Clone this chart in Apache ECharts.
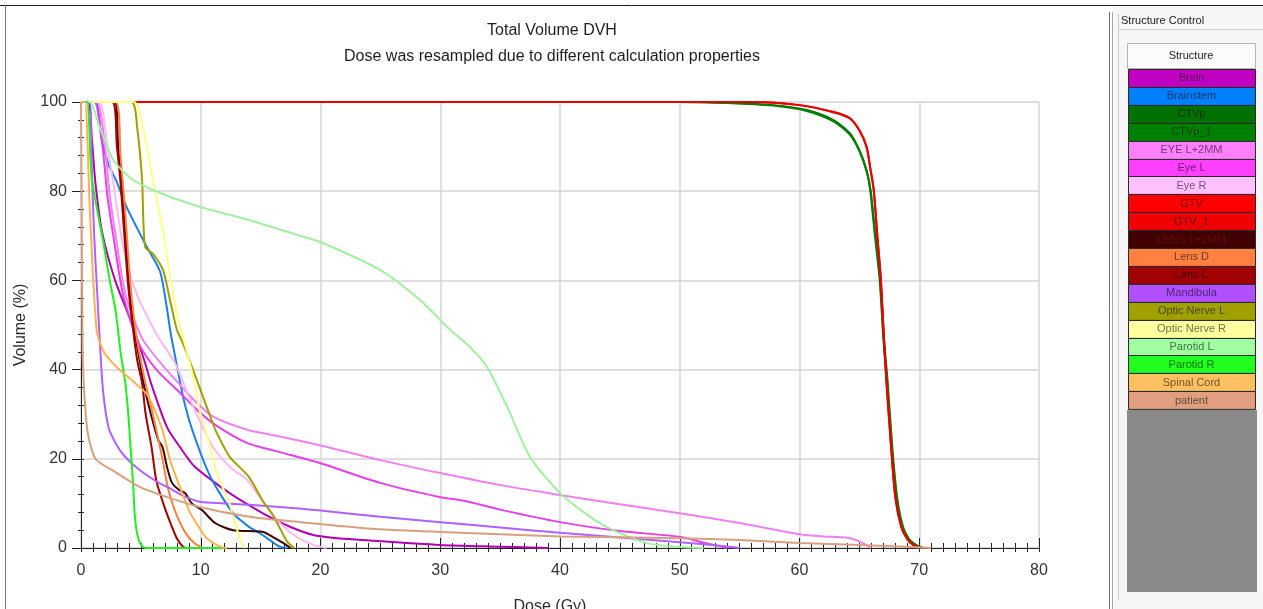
<!DOCTYPE html>
<html>
<head>
<meta charset="utf-8">
<script src="https://cdn.jsdelivr.net/npm/echarts@6/dist/echarts.min.js"></script>
<style>
html,body{margin:0;padding:0;background:#fff;}
#chart{width:1263px;height:609px;}
</style>
</head>
<body>
<div id="chart"></div>
<script>
// ---------- texts ----------
const titleText = 'Total Volume DVH';
const subtitleText = 'Dose was resampled due to different calculation properties';
const xAxisName = 'Dose (Gy)';
const yAxisName = 'Volume (%)';
const panelTitle = 'Structure Control';
const panelHeader = 'Structure';

// ---------- axes ----------
const xMin = 0, xMax = 80, xStep = 10;
const yMin = 0, yMax = 100, yStep = 20;

// ---------- structures (legend order) ----------
const structureNames = ['Brain','Brainstem','CTVp','CTVp_1','EYE L+2MM','Eye L','Eye R','GTV','GTV_1','LENS L+2MM','Lens D','Lens L','Mandibula','Optic Nerve L','Optic Nerve R','Parotid L','Parotid R','Spinal Cord','patient'];
const structureColors = ['#C000C0','#0080FF','#007000','#008000','#FF80FF','#FF40FF','#FFC0FF','#FF0000','#F00000','#400000','#FF8040','#A00000','#B050FF','#A0A000','#FFFFA0','#A0FFA0','#20FF20','#FFC060','#E0A080'];
const lineColors = ['#B000B0','#1880E8','#007000','#008000','#F080F0','#E840E8','#FFB8F0','#F00000','#E80000','#3A0606','#FF8040','#A00000','#B060FF','#A0A000','#FFFF88','#A0F0A0','#20F020','#FFB050','#D8A080'];

// ---------- DVH curves: [dose Gy, volume %] ----------
const brain = [[0,100],[0.6,100],[0.9,92],[1.2,82],[1.75,71],[2.85,60],[4.3,50],[5.35,41.5],[5.9,36.5],[7.2,27],[8.3,22.5],[9.4,18.5],[11,15],[12.7,11.8],[13.9,9.8],[15.5,7.3],[17.5,4.7],[19.4,2.9],[21,2.3],[23.5,1.8],[30,0.7],[35,0.3],[39,0]];
const brainstem = [[0,100],[1.2,100],[1.7,92],[2.3,86],[3.0,82],[3.8,76.5],[5.5,67.5],[6.6,62],[7.1,55],[7.5,48],[8,41],[8.6,33],[9.35,26],[10.8,16],[12.7,7.8],[14,4.8],[15,3.2],[16,1.3],[16.6,0.3],[17.2,0]];
const ctvp = [[0,100],[50,100],[54,99.8],[57.8,99.3],[60.6,98.2],[62.8,96],[64.2,93],[65,89.2],[65.6,84.7],[65.9,80.3],[66.3,70],[66.7,60],[67,47],[67.3,37.7],[67.7,22.6],[68.1,11.4],[68.6,4.7],[69.1,2],[69.6,0.8],[70.2,0]];
const ctvp1 = [[0,100],[50,100],[54,99.8],[57.8,99.2],[60.6,98],[62.8,95.7],[64.2,92.7],[65,89],[65.6,84.5],[65.95,80],[66.35,70],[66.75,60],[67.05,47],[67.35,37.7],[67.75,22.6],[68.15,11.4],[68.65,4.7],[69.15,2],[69.65,0.8],[70.3,0]];
const eyeL2mm = [[0,100],[1.3,100],[2.0,90],[2.4,79],[2.9,70],[3.7,57],[5.1,47],[6.8,41],[8.3,36.5],[9.5,33],[11,29.5],[13.9,26.5],[16.6,25],[20,23],[25,19.7],[30,16.8],[35,14.1],[40,11.9],[45,9.8],[50,7.8],[55,5.6],[60,3.1],[62,2.6],[64,2.3],[65,1.5],[66,0]];
const eyeL = [[0,100],[1.1,100],[1.8,90],[2.2,79],[2.7,70],[3.5,57],[4.8,46],[6.3,40],[8.3,34.7],[9.5,31.5],[11,28],[13.9,23.5],[16.6,21.5],[20,19],[25,14.6],[30,11.4],[32,10.6],[35,8.6],[40,5.8],[45,3.8],[50,2.5],[52,1.2],[54,0]];
const eyeR = [[0,100],[1.5,100],[2.2,90],[2.8,80],[3.5,68],[4.5,58],[6.3,48],[7.85,41.5],[8.85,35],[10,28],[11,22.7],[12.5,18],[13.9,15.2],[15.5,9.2],[16.6,5.6],[18,2.5],[19.4,0.7],[20.5,0]];
const gtv = [[0,100],[56,100],[60,99.3],[62.8,97.8],[64.2,96.4],[65,93.7],[65.6,90],[65.9,85.4],[66.2,80.3],[66.5,70],[66.8,60],[67.05,47],[67.25,37.7],[67.65,22.6],[68,11.4],[68.5,4.7],[69,2],[69.5,0.7],[70.1,0]];
const gtv1 = [[0,100],[56,100],[60,99.3],[62.8,97.7],[64.2,96.3],[65,93.6],[65.6,89.9],[65.9,85.3],[66.2,80.2],[66.5,70],[66.8,60],[67.05,47],[67.25,37.7],[67.65,22.6],[68,11.4],[68.5,4.7],[69,2],[69.5,0.7],[70.1,0]];
const lensL2mm = [[0,100],[2.8,100],[3.1,90],[3.4,82],[4.0,60],[4.4,50],[4.9,42],[5.3,36],[5.9,29.4],[6.45,24.2],[6.8,22.7],[7.2,18],[7.6,14.6],[8.2,13],[8.7,12.3],[9.25,10],[10.1,8.5],[11.2,5.6],[12.7,4],[15.2,3.6],[16,2.5],[16.9,1.1],[17.5,0]];
const lensD = [[0,100],[2.9,100],[3.3,88],[3.7,75],[4.1,60],[4.6,48],[5.3,38],[6,30],[6.8,20],[7.3,13],[7.9,8],[8.7,3.5],[9.5,1],[10.2,0]];
const lensL = [[0,100],[2.6,100],[3.0,90],[3.3,82],[3.9,60],[4.3,50],[4.7,42],[5.1,37],[5.4,30],[5.9,22.5],[6.3,15],[7.0,9],[7.6,4.7],[8.0,2.2],[8.5,0.3],[8.8,0]];
const mandibula = [[0,100],[0.7,100],[0.9,85],[1.1,70],[1.4,55],[1.6,45],[1.85,35],[2.3,27],[3,23],[3.7,20.4],[4.9,17.5],[6.5,14.6],[7.2,13.7],[8.7,11.5],[10,10.3],[12,10],[16.6,9.2],[20,8.4],[25,7],[30,5.8],[35,4.6],[40,3.4],[45.8,2.2],[50,1.3],[53,0.6],[55,0]];
const opticNerveL = [[0,100],[4.2,100],[4.7,94],[5.1,82.5],[5.35,67.5],[6,66],[6.85,62.3],[7.4,56],[8,49],[8.5,46],[9.9,36],[11,28],[11.3,26],[12.4,20.5],[14,16],[15.2,10.5],[16,7.5],[16.5,5],[17.2,1.5],[17.8,0]];
const opticNerveR = [[0,100],[4.4,100],[5.2,94],[6,82.5],[6.85,71],[7.4,61.6],[8,52.7],[8.8,44.4],[9.4,38],[9.9,31],[11,20.5],[11.3,17],[12.4,10],[12.7,7],[13.4,1.1],[13.7,0]];
const parotidL = [[0,100],[0.7,100],[1.6,94],[2.7,87],[4.35,82.5],[6.6,79.6],[9.9,76.5],[14.1,73.5],[18.3,70],[20,68.6],[25,62.3],[28.3,55.6],[30.8,49],[32.5,45],[33.9,40.6],[35.6,31.6],[37.5,20.4],[40,12.3],[42,8],[43.9,4.7],[47.3,1.1],[50,0.2],[52,0]];
const parotidR = [[0,100],[0.5,100],[0.9,83],[1.9,68],[2.4,60],[2.9,53],[3.3,44],[3.7,37],[3.95,30],[4.15,22],[4.35,14.5],[4.5,7],[4.7,3],[4.95,1],[5.4,0],[12,0]];
const spinalCord = [[0,100],[0.33,100],[0.75,75],[1.3,49],[1.9,44],[3,40.5],[4.3,37.5],[5.5,34.5],[6.3,30],[6.85,26],[7.4,20],[8,15.5],[9.1,8],[10,4],[10.5,2.2],[11.6,0.3],[12.2,0]];
const patient = [[0,100],[0.05,80],[0.1,55.6],[0.17,40.6],[0.5,27],[0.9,22],[1.3,19.7],[3,16.8],[4.9,13.7],[7.2,11.4],[9.9,9.2],[14.1,7],[18.3,5.8],[25,4.2],[30,3.6],[40,2.6],[50,2.2],[55,1.8],[60,1.1],[65,0.7],[69.5,0.2],[71,0]];

const curves = [brain, brainstem, ctvp, ctvp1, eyeL2mm, eyeL, eyeR, gtv, gtv1, lensL2mm, lensD, lensL, mandibula, opticNerveL, opticNerveR, parotidL, parotidR, spinalCord, patient];

// ---------- helpers ----------
const FONT = 'Liberation Sans, Arial, sans-serif';
function textColorFor(hex) {
  const r = parseInt(hex.slice(1,3),16), g = parseInt(hex.slice(3,5),16), b = parseInt(hex.slice(5,7),16);
  const lum = (0.299*r + 0.587*g + 0.114*b) / 255;
  if (lum < 0.15) return 'rgb(' + Math.min(255, r + 40) + ',' + (g + 8) + ',' + (b + 8) + ')';
  const f = 0.45;
  return 'rgb(' + Math.round(r*f) + ',' + Math.round(g*f) + ',' + Math.round(b*f) + ')';
}

// ---------- structure panel (graphic) ----------
const graphics = [];
graphics.push({type:'line', shape:{x1:0,y1:5.5,x2:1263,y2:5.5}, style:{stroke:'#1a1a1a', lineWidth:1}});
graphics.push({type:'line', shape:{x1:5.5,y1:5,x2:5.5,y2:609}, style:{stroke:'#7a7a7a', lineWidth:1}});
graphics.push({type:'rect', shape:{x:1113,y:6,width:150,height:603}, style:{fill:'#f6f6f6'}});
graphics.push({type:'line', shape:{x1:1109.5,y1:12,x2:1109.5,y2:609}, style:{stroke:'#6e6e6e', lineWidth:1}});
graphics.push({type:'line', shape:{x1:1112.5,y1:12,x2:1112.5,y2:609}, style:{stroke:'#a8a8a8', lineWidth:1}});
graphics.push({type:'line', shape:{x1:1118.5,y1:14,x2:1118.5,y2:600}, style:{stroke:'#c8c8c8', lineWidth:1}});
graphics.push({type:'line', shape:{x1:1118,y1:29.5,x2:1263,y2:29.5}, style:{stroke:'#cfcfcf', lineWidth:1}});
graphics.push({type:'text', x:1121, y:21, style:{text:panelTitle, fill:'#222', font:'11px ' + FONT, verticalAlign:'middle', align:'left'}});
graphics.push({type:'rect', shape:{x:1127.5,y:43.5,width:128,height:25}, style:{fill:'#fbfbfb', stroke:'#b4b4b4', lineWidth:1}});
graphics.push({type:'text', x:1191, y:56, style:{text:panelHeader, fill:'#222', font:'11px ' + FONT, verticalAlign:'middle', align:'center'}});
const rowTop = 69, rowH = 17.9, rowX = 1128, rowW = 127;
structureNames.forEach(function (name, i) {
  const y = rowTop + i * rowH;
  graphics.push({type:'rect', shape:{x:rowX + 0.5, y:Math.round(y) + 0.5, width:rowW, height:rowH}, style:{fill:structureColors[i], stroke:'#2a2a2a', lineWidth:1}});
  graphics.push({type:'text', x:rowX + rowW/2, y:y + rowH/2 + 0.5, style:{text:name, fill:textColorFor(structureColors[i]), font:'11px ' + FONT, verticalAlign:'middle', align:'center'}});
});
const rowsBottom = rowTop + structureNames.length * rowH;
graphics.push({type:'rect', shape:{x:1127, y:Math.round(rowsBottom) + 1, width:130, height:592 - Math.round(rowsBottom) - 1}, style:{fill:'#8a8a8a'}});
graphics.push({type:'text', x:552, y:31, style:{text:titleText, fill:'#1e1e1e', font:'16px ' + FONT, verticalAlign:'middle', align:'center'}});
graphics.push({type:'text', x:552, y:57, style:{text:subtitleText, fill:'#1e1e1e', font:'16px ' + FONT, verticalAlign:'middle', align:'center'}});
graphics.push({type:'text', x:550, y:607, style:{text:xAxisName, fill:'#2a2a2a', font:'16px ' + FONT, verticalAlign:'middle', align:'center'}});

// ---------- series ----------
const series = curves.map(function (data, i) {
  return {
    name: structureNames[i],
    type: 'line',
    xAxisIndex: 0,
    yAxisIndex: 0,
    data: data,
    showSymbol: false,
    symbol: 'none',
    smooth: 0.25,
    clip: false,
    lineStyle: {color: lineColors[i], width: 2},
    itemStyle: {color: lineColors[i]},
    emphasis: {disabled: true},
    z: 3 + i * 0.01
  };
});

const axisColor = '#222';
const option = {
  animation: false,
  backgroundColor: '#ffffff',
  grid: {left: 81, right: 224, top: 102, bottom: 61, containLabel: false, outerBoundsMode: 'none'},
  xAxis: [
    {
      type: 'value', min: xMin, max: xMax, interval: xStep, position: 'bottom',
      axisLine: {show: true, onZero: false, lineStyle: {color: axisColor, width: 1}},
      axisTick: {show: true, inside: true, length: 10, lineStyle: {color: axisColor, width: 1}},
      minorTick: {show: true, splitNumber: 10, length: 5, lineStyle: {color: axisColor, width: 1}},
      axisLabel: {color: '#333', fontSize: 16, margin: 15, fontFamily: FONT},
      splitLine: {show: true, lineStyle: {color: '#d4d4d4', width: 1.5}}
    },
    {
      type: 'value', min: xMin, max: xMax, interval: xStep, position: 'bottom',
      axisLine: {show: false, onZero: false},
      axisTick: {show: true, inside: false, length: 4, lineStyle: {color: axisColor, width: 1}},
      minorTick: {show: true, splitNumber: 10, length: 4, lineStyle: {color: axisColor, width: 1}},
      axisLabel: {show: false},
      splitLine: {show: false}
    }
  ],
  yAxis: [
    {
      type: 'value', min: yMin, max: yMax, interval: yStep, position: 'left',
      name: yAxisName, nameLocation: 'middle', nameGap: 52, nameRotate: 90,
      nameTextStyle: {color: '#2a2a2a', fontSize: 16, fontFamily: FONT},
      axisLine: {show: true, onZero: false, lineStyle: {color: axisColor, width: 1}},
      axisTick: {show: true, inside: false, length: 9, lineStyle: {color: axisColor, width: 1}},
      minorTick: {show: true, splitNumber: 5, length: 3, lineStyle: {color: axisColor, width: 1}},
      axisLabel: {color: '#333', fontSize: 16, margin: 14, fontFamily: FONT},
      splitLine: {show: true, lineStyle: {color: '#d4d4d4', width: 1.5}}
    },
    {
      type: 'value', min: yMin, max: yMax, interval: yStep, position: 'left',
      axisLine: {show: false, onZero: false},
      axisTick: {show: true, inside: true, length: 3, lineStyle: {color: axisColor, width: 1}},
      minorTick: {show: true, splitNumber: 5, length: 3, lineStyle: {color: axisColor, width: 1}},
      axisLabel: {show: false},
      splitLine: {show: false}
    }
  ],
  graphic: graphics,
  series: series
};

const chart = echarts.init(document.getElementById('chart'), null, {renderer: 'canvas'});
chart.setOption(option);
</script>
</body>
</html>
